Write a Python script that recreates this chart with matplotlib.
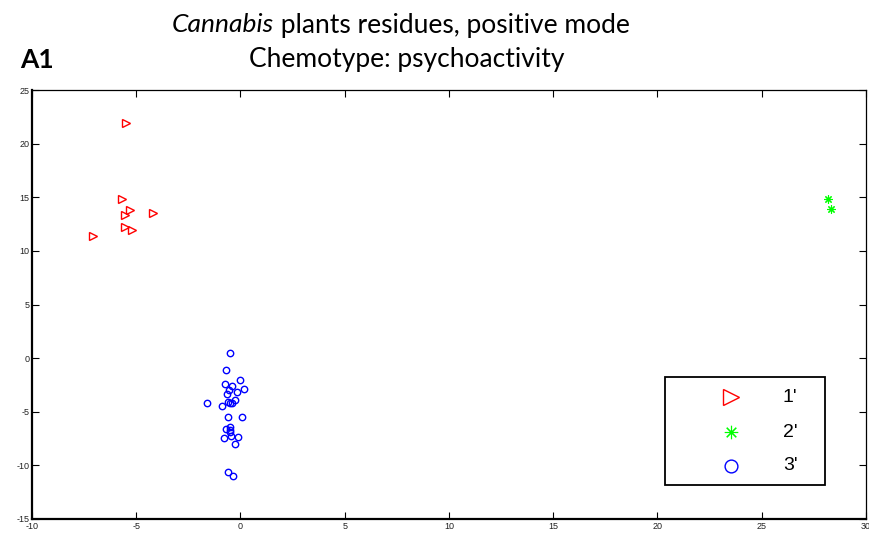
import matplotlib
matplotlib.use("Agg")
import matplotlib.pyplot as plt
from matplotlib.patches import Rectangle

# ---- data ----
g1_x = [-5.48, -5.70, -5.31, -5.55, -4.18, -5.52, -5.20, -7.07]
g1_y = [21.9, 14.84, 13.81, 13.34, 13.5, 12.23, 11.95, 11.42]

g2_x = [28.16, 28.32]
g2_y = [14.84, 13.93]

g3_x = [-0.49, -0.68, -0.02, -0.76, -0.42, 0.18, -0.55, -0.15, -0.66, -1.59,
        -0.25, -0.58, -0.39, -0.50, -0.89, -0.58, 0.07, -0.50, -0.70, -0.52,
        -0.50, -0.12, -0.79, -0.47, -0.28, -0.61, -0.35]
g3_y = [0.45, -1.14, -2.04, -2.41, -2.63, -2.91, -3.0, -3.19, -3.35, -4.18,
        -3.9, -4.09, -4.18, -4.15, -4.46, -5.45, -5.51, -6.42, -6.61, -6.70,
        -6.86, -7.32, -7.45, -7.26, -8.04, -10.65, -10.96]

labels = ["1'", "2'", "3'"]
xticks = [-10, -5, 0, 5, 10, 15, 20, 25, 30]
yticks = [-15, -10, -5, 0, 5, 10, 15, 20, 25]

W, H = 870, 534
fig = plt.figure(figsize=(W / 100, H / 100), dpi=100)
AX_L, AX_R, AX_T, AX_B = 32, 866, 90, 519
ax = fig.add_axes([AX_L / W, 1 - AX_B / H, (AX_R - AX_L) / W, (AX_B - AX_T) / H])

styles = [
    dict(marker='>', markersize=5.5, markerfacecolor='none',
         markeredgecolor='#ff0000', markeredgewidth=1),
    dict(marker=(8, 2, 0), markersize=6, markeredgecolor='#00ff00',
         color='#00ff00', markeredgewidth=0.8),
    dict(marker='o', markersize=4.6, markerfacecolor='none',
         markeredgecolor='#0000ff', markeredgewidth=1),
]

for xs, ys, st in zip([g1_x, g2_x, g3_x], [g1_y, g2_y, g3_y], styles):
    ax.plot(xs, ys, linestyle='none', **st)

ax.set_xlim(-10, 30)
ax.set_ylim(-15, 25)
ax.set_xticks(xticks)
ax.set_yticks(yticks)
ax.set_xticklabels([str(t) for t in xticks])
ax.set_yticklabels([str(t) for t in yticks])
ax.tick_params(direction='in', length=5, width=0.8, top=True, right=True,
               labelsize=6.5, pad=2, colors='black')
for lab in ax.get_xticklabels() + ax.get_yticklabels():
    lab.set_family('Liberation Sans')
    lab.set_color('#222222')
for s in ['left', 'bottom']:
    ax.spines[s].set_linewidth(1.6)
for s in ['top', 'right']:
    ax.spines[s].set_linewidth(0.9)

# ---- legend box (drawn in axes-fraction coordinates) ----
def fx(px):
    return (px - AX_L) / (AX_R - AX_L)

def fy(py):
    return (AX_B - py) / (AX_B - AX_T)

ax.add_patch(Rectangle((fx(665), fy(485)), fx(825) - fx(665), fy(377) - fy(485),
                       transform=ax.transAxes, facecolor='white',
                       edgecolor='black', linewidth=1.3, zorder=5))
row_y = [397, 432, 466]
legend_scale = [2.0, 1.6, 2.0]
for lab, st, ry, sc in zip(labels, styles, row_y, legend_scale):
    big = dict(st)
    big['markersize'] = st['markersize'] * sc
    ax.plot([fx(731)], [fy(ry)], linestyle='none', transform=ax.transAxes,
            zorder=6, clip_on=False, **big)
    ax.text(fx(783), fy(ry), lab, transform=ax.transAxes, ha='left',
            va='center', fontsize=14, family='Liberation Sans', zorder=6)

# ---- titles ----
tfont = 'Lato'
fs = 19
fig.canvas.draw()
r = fig.canvas.get_renderer()
t_it = fig.text(0, 0, "Cannabis", fontsize=fs, family=tfont, style='italic')
t_rest = fig.text(0, 0, " plants residues, positive mode", fontsize=fs, family=tfont)
w1 = t_it.get_window_extent(r).width
w2 = t_rest.get_window_extent(r).width
cx = 401
x0 = cx - (w1 + w2) / 2
y1 = 1 - 25 / H
t_it.set_position((x0 / W, y1))
t_it.set_va('center')
t_rest.set_position(((x0 + w1) / W, y1))
t_rest.set_va('center')

fig.text(407 / W, 1 - 60 / H, "Chemotype: psychoactivity", fontsize=fs,
         family=tfont, ha='center', va='center')
fig.text(20 / W, 1 - 60 / H, "A1", fontsize=fs, family=tfont, weight='bold',
         ha='left', va='center')

fig.savefig("out.png", dpi=100)
